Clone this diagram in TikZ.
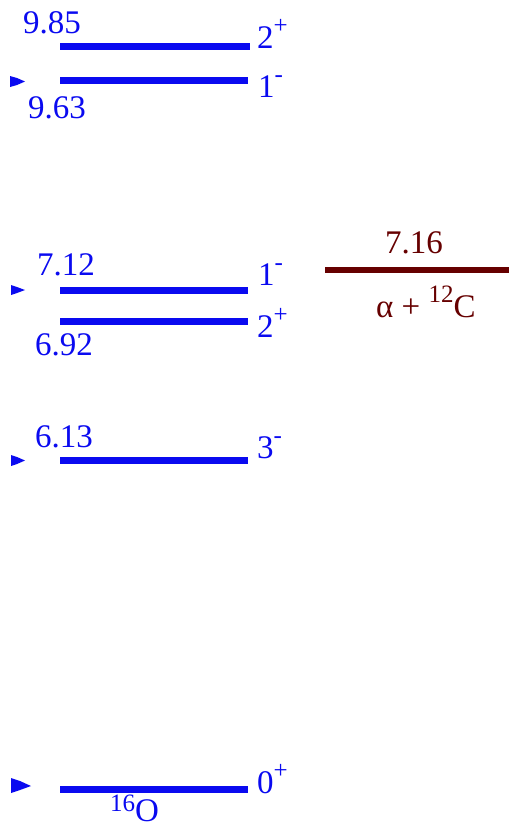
\documentclass[tikz,border=0pt]{standalone}
\usepackage{fontspec}
\setmainfont{Liberation Serif}
\definecolor{lvl}{RGB}{10,10,240}
\definecolor{thr}{RGB}{102,0,0}
\newcommand{\spx}[2][15pt]{\raisebox{#1}{\fontsize{25}{25}\selectfont #2}}
\begin{document}
\begin{tikzpicture}[x=1pt,y=-1pt,
  every node/.style={inner sep=0pt,font=\fontsize{33}{36}\selectfont},
  level/.style={line width=7pt,draw=lvl},
  thrline/.style={line width=6pt,draw=thr},
  lbl/.style={text=lvl,anchor=base west},
  tlbl/.style={text=thr},
  feed/.style={fill=lvl}]
\useasboundingbox (0,0) rectangle (509,828);
% level end points
\coordinate (a1) at (60,46);   \coordinate (b1) at (250,46);
\coordinate (a2) at (60,80.5); \coordinate (b2) at (248,80.5);
\coordinate (a3) at (60,290);  \coordinate (b3) at (248,290);
\coordinate (a4) at (60,321);  \coordinate (b4) at (248,321);
\coordinate (a5) at (60,460.5);\coordinate (b5) at (248,460.5);
\coordinate (a6) at (60,789);  \coordinate (b6) at (248,789);
\coordinate (c1) at (325,269.5); \coordinate (c2) at (509,269.5);
\draw[level] (a1) -- (b1);
\draw[level] (a2) -- (b2);
\draw[level] (a3) -- (b3);
\draw[level] (a4) -- (b4);
\draw[level] (a5) -- (b5);
\draw[level] (a6) -- (b6);
\draw[thrline] (c1) -- (c2);
% arrowheads at left
\fill[feed] (10,76) -- (17,78) -- (25,81.5) -- (17,85) -- (10,87) -- cycle;
\fill[feed] (11,285) -- (17,287) -- (25,290) -- (17,293) -- (11,295) -- cycle;
\fill[feed] (11,455) -- (17,457) -- (25,460.5) -- (17,464) -- (11,466) -- cycle;
\fill[feed] (11,778) -- (20,781) -- (31,786) -- (20,790) -- (11,793) -- cycle;
% labels
\node[lbl] (e1) at (23,33) {9.85};
\node[lbl] (j1) at (257,48) {2\spx{+}};
\node[lbl] (e2) at (28,118) {9.63};
\node[lbl] (j2) at (258,97) {1\spx{-}};
\node[lbl] (e3) at (37,275) {7.12};
\node[lbl] (j3) at (258,285) {1\spx{-}};
\node[lbl] (e4) at (35,355) {6.92};
\node[lbl] (j4) at (257,337) {2\spx{+}};
\node[lbl] (e5) at (35,447) {6.13};
\node[lbl] (j5) at (257,458) {3\spx{-}};
\node[lbl] (j6) at (257,793) {0\spx{+}};
\node[lbl] (nuc) at (110,821) {\spx[10pt]{16}O};
\node[tlbl,anchor=base] (e7) at (414,253) {7.16};
\node[tlbl,anchor=base west] (ch) at (376,317) {α + \spx{12}C};
\end{tikzpicture}
\end{document}
